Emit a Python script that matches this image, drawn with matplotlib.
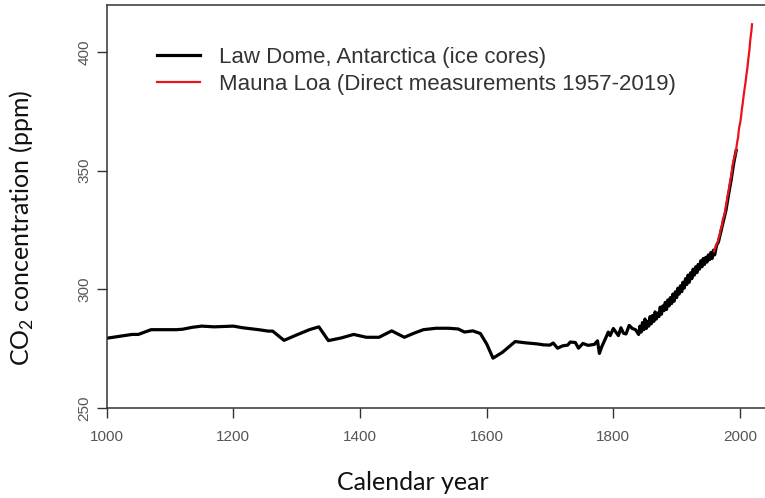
import matplotlib
matplotlib.use('Agg')
import matplotlib.pyplot as plt

# Law Dome ice core record
law_dome_years = [1000, 1010, 1030, 1040, 1050, 1060, 1070, 1090, 1110, 1120,
                  1135, 1150, 1170, 1200, 1215, 1240, 1255, 1262, 1280, 1300,
                  1320, 1335, 1350, 1370, 1390, 1410, 1430, 1450, 1470, 1485,
                  1500, 1520, 1540, 1555, 1565, 1578, 1590, 1600, 1610, 1625,
                  1645, 1660, 1680, 1690, 1700, 1705, 1712, 1720, 1728, 1732,
                  1740, 1745, 1752, 1760, 1770, 1775, 1778, 1782, 1788, 1792,
                  1795, 1800, 1804, 1808, 1812, 1816, 1820, 1825, 1830, 1835,
                  1840, 1842, 1844, 1846, 1848, 1850, 1852, 1854, 1856, 1858,
                  1860, 1862, 1864, 1866, 1868, 1870, 1872, 1874, 1876, 1878,
                  1880, 1882, 1884, 1886, 1888, 1890, 1892, 1894, 1896, 1898,
                  1900, 1902, 1904, 1906, 1908, 1910, 1912, 1914, 1916, 1918,
                  1920, 1922, 1924, 1926, 1928, 1930, 1932, 1934, 1936, 1938,
                  1940, 1942, 1944, 1946, 1948, 1950, 1952, 1954, 1956, 1958,
                  1960, 1963, 1966, 1970, 1974, 1978, 1982, 1986, 1990, 1994]
law_dome_co2 = [279.4, 279.8, 280.6, 281.0, 281.0, 282.0, 283.0, 283.0, 283.0, 283.2,
                284.0, 284.5, 284.2, 284.5, 283.8, 283.0, 282.4, 282.4, 278.5, 280.8,
                283.0, 284.2, 278.4, 279.5, 281.0, 279.8, 279.8, 282.5, 279.8, 281.5,
                283.0, 283.6, 283.6, 283.3, 282.0, 282.5, 281.4, 277.0, 271.0, 273.5,
                278.0, 277.5, 277.0, 276.6, 276.5, 277.4, 275.2, 276.2, 276.5, 277.8,
                277.6, 275.2, 277.2, 276.4, 276.8, 278.3, 273.0, 276.0, 279.5, 282.0,
                280.5, 283.5, 282.0, 280.5, 283.8, 281.5, 281.2, 284.8, 283.5, 283.0,
                281.0, 284.5, 282.0, 286.0, 283.0, 287.5, 283.5, 286.5, 284.5, 288.5,
                285.5, 289.0, 286.5, 290.5, 287.5, 290.0, 288.5, 292.5, 289.5, 293.0,
                291.0, 294.5, 291.5, 295.5, 293.0, 296.5, 294.0, 298.0, 295.0, 299.0,
                296.5, 300.5, 298.0, 301.5, 299.0, 303.0, 300.5, 304.5, 302.0, 306.0,
                303.0, 307.0, 304.5, 308.5, 306.0, 309.5, 307.0, 310.5, 308.5, 312.0,
                309.5, 313.0, 310.5, 313.5, 311.5, 314.5, 312.5, 315.5, 313.0, 316.5,
                314.5, 318.5, 320.0, 324.5, 329.0, 333.5, 340.0, 346.0, 353.0, 358.5]

# Mauna Loa annual means
mauna_loa_years = list(range(1959, 2020))
mauna_loa_co2 = [315.98, 316.91, 317.64, 318.45, 318.99, 319.62, 320.04, 321.37, 322.18, 323.05,
                 324.62, 325.68, 326.32, 327.46, 329.68, 330.19, 331.13, 332.03, 333.84, 335.41,
                 336.84, 338.76, 340.12, 341.48, 343.15, 344.85, 346.35, 347.61, 349.31, 351.69,
                 353.20, 354.45, 355.70, 356.54, 357.21, 358.96, 360.97, 362.74, 363.88, 366.84,
                 368.54, 369.71, 371.32, 373.45, 375.98, 377.70, 379.98, 382.09, 384.02, 385.83,
                 387.64, 390.10, 391.85, 394.06, 396.74, 398.81, 401.01, 404.41, 406.76, 408.72,
                 411.66]

x_ticks = [1000, 1200, 1400, 1600, 1800, 2000]
y_ticks = [250, 300, 350, 400]

plt.rcParams['mathtext.fontset'] = 'custom'
plt.rcParams['mathtext.rm'] = 'Lato'

fig = plt.figure(figsize=(7.65, 4.98), dpi=100)
ax = fig.add_axes([0.1395, 0.1807, 0.8605, 0.8093])

ax.plot(law_dome_years, law_dome_co2, color='black', linewidth=2.3,
        label='Law Dome, Antarctica (ice cores)')
ax.plot(mauna_loa_years, mauna_loa_co2, color='#e8141c', linewidth=1.6,
        label='Mauna Loa (Direct measurements 1957-2019)')

ax.set_xlim(1000, 2039.5)
ax.set_ylim(250, 419.8)
ax.set_xticks(x_ticks)
ax.set_yticks(y_ticks)

for s in ['left', 'bottom', 'top']:
    ax.spines[s].set_color('#333333')
    ax.spines[s].set_linewidth(1.1)
ax.spines['right'].set_visible(False)

ax.tick_params(axis='both', direction='out', length=7, width=1.0, color='#333333',
               labelcolor='#555555')
ax.tick_params(axis='x', pad=9)
ax.tick_params(axis='y', pad=4)
for lbl in ax.get_xticklabels() + ax.get_yticklabels():
    lbl.set_fontfamily('Liberation Sans')
    lbl.set_fontsize(11)
for lbl in ax.get_yticklabels():
    lbl.set_rotation(90)
    lbl.set_va('center')

ax.set_xlabel('Calendar year', fontfamily='Lato', fontsize=18, va='center', color='#111111')
ax.set_ylabel(r'CO$_\mathregular{2}$ concentration (ppm)', fontfamily='Lato',
              fontsize=18, va='center', color='#111111')
ax.xaxis.set_label_coords(0.4653, -0.186)
ax.yaxis.set_label_coords(-0.1287, 0.4467)

leg = ax.legend(loc='upper left', bbox_to_anchor=(0.0764, 0.896), frameon=False,
                prop={'family': 'Liberation Sans', 'size': 16},
                handlelength=1.94, handletextpad=0.86, labelspacing=0.27,
                borderpad=0, borderaxespad=0)
for t in leg.get_texts():
    t.set_color('#333333')

fig.savefig('out.png', dpi=100)
